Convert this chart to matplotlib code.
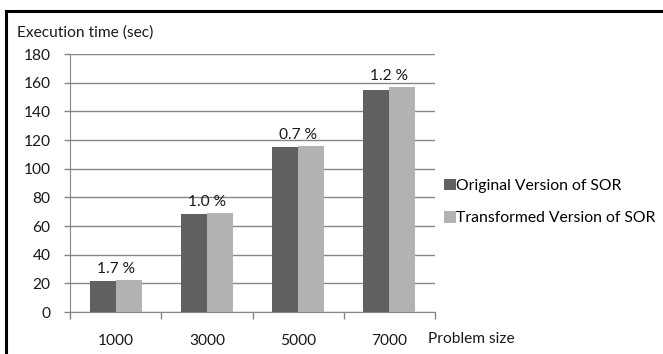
import matplotlib
matplotlib.use("Agg")
import matplotlib.pyplot as plt
from matplotlib.lines import Line2D
from matplotlib.patches import Patch
import numpy as np

plt.rcParams['font.family'] = ['Lato', 'DejaVu Sans']

categories = ["1000", "3000", "5000", "7000"]
original = [21.7, 68.3, 114.9, 155.2]
transformed = [22.4, 69.2, 115.9, 157.1]
overhead_labels = ["1.7 %", "1.0 %", "0.7 %", "1.2 %"]
series_names = ["Original Version of SOR", "Transformed Version of SOR"]
yticks = list(range(0, 181, 20))

c_dark = "#606060"
c_light = "#b2b2b2"
grid_c = "#868686"
fs = 11.2

fig = plt.figure(figsize=(6.63, 3.54), dpi=100)
ax = fig.add_axes([70/663, 1-312/354, 365/663, 258/354])

x = np.arange(len(categories))
w = 0.285
ax.bar(x - w/2, original, width=w, color=c_dark, zorder=3)
ax.bar(x + w/2, transformed, width=w, color=c_light, zorder=3)

for xi, o, t, lab in zip(x, original, transformed, overhead_labels):
    ax.annotate(lab, (xi, max(o, t)), xytext=(0, 3), textcoords="offset points",
                ha="center", va="bottom", fontsize=fs, color="#1a1a1a")

ax.set_xlim(-0.5, len(categories) - 0.5)
ax.set_ylim(0, 180)
ax.set_yticks(yticks)
ax.yaxis.grid(True, color=grid_c, linewidth=1.0, zorder=0)
ax.set_axisbelow(True)

ax.set_xticks(x)
ax.set_xticklabels(categories)
ax.set_xticks(np.arange(-0.5, len(categories), 1.0), minor=True)
ax.tick_params(axis="x", which="major", length=0, pad=16, labelsize=fs, labelcolor="#1a1a1a")
ax.tick_params(axis="x", which="minor", length=5, color=grid_c, width=1.0, direction="out")
ax.tick_params(axis="y", length=4, color=grid_c, width=1.0, pad=10, labelsize=fs, labelcolor="#1a1a1a")

for s in ["top", "right"]:
    ax.spines[s].set_visible(False)
ax.spines["left"].set_color(grid_c)
ax.spines["bottom"].set_color(grid_c)

fig.text(17/663, 1-33/354, "Execution time (sec)", fontsize=fs, ha="left", va="center", color="#1a1a1a")
fig.text(428/663, 1-339/354, "Problem size", fontsize=fs, ha="left", va="center", color="#1a1a1a")

handles = [Patch(facecolor=c_dark), Patch(facecolor=c_light)]
leg = fig.legend(handles, series_names, loc="center left", bbox_to_anchor=(436/663, 1-202/354),
                 frameon=False, fontsize=11.3, handlelength=0.75, handleheight=0.75,
                 handletextpad=0.05, labelspacing=1.15, borderpad=0)

# partial outer border (top and left visible)
fig.add_artist(Line2D([6/663, 6/663], [0, 1-10.5/354], transform=fig.transFigure, color="black", linewidth=2.2, solid_capstyle="projecting"))
fig.add_artist(Line2D([6/663, 1], [1-10.5/354, 1-10.5/354], transform=fig.transFigure, color="black", linewidth=2.2, solid_capstyle="projecting"))

fig.savefig("out.png", dpi=100, facecolor="white")
